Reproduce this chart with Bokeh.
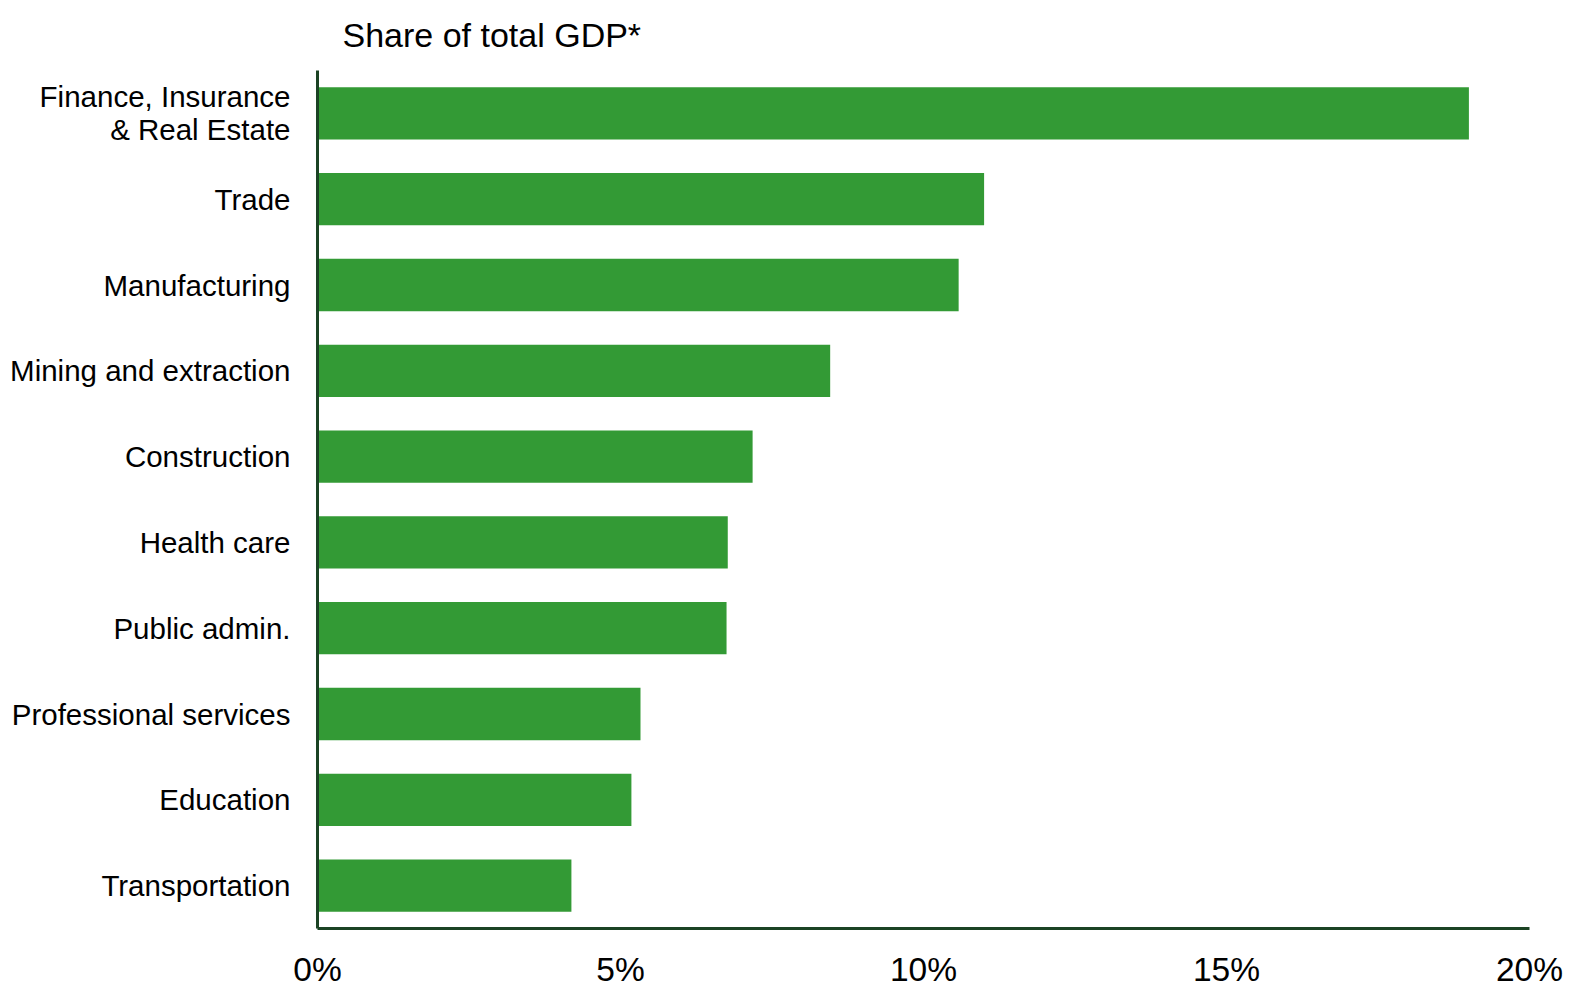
from bokeh.plotting import figure
from bokeh.models import ColumnDataSource, NumeralTickFormatter, FixedTicker, Title
from bokeh.embed import file_html
from bokeh.resources import INLINE

categories = ["Finance, Insurance\n& Real Estate", "Trade", "Manufacturing", "Mining and extraction",
              "Construction", "Health care", "Public admin.", "Professional services",
              "Education", "Transportation"]
shares = [0.190, 0.110, 0.1058, 0.0846, 0.0718, 0.0677, 0.0675, 0.0533, 0.0518, 0.0419]
x_ticks = [0, 0.05, 0.10, 0.15, 0.20]
title_text = "Share of total GDP*"

FONT = "Liberation Sans"
BAR = "#339a35"
AXIS = "#1b4324"

src = ColumnDataSource(dict(cat=categories, val=shares))

p = figure(width=1569, height=990, y_range=list(reversed(categories)), x_range=(0, 0.20),
           output_backend="svg", toolbar_location=None,
           min_border_left=317, min_border_right=40, min_border_top=70, min_border_bottom=60)
p.y_range.range_padding = 0
p.hbar(y="cat", right="val", left=0, height=0.61, source=src, color=BAR, line_color=None)

p.outline_line_color = None
p.grid.visible = False
p.background_fill_color = "white"
p.border_fill_color = "white"

xa = p.xaxis[0]
xa.ticker = FixedTicker(ticks=x_ticks)
xa.formatter = NumeralTickFormatter(format="0%")
xa.major_tick_line_color = None
xa.minor_tick_line_color = None
xa.axis_line_color = AXIS
xa.axis_line_width = 3
xa.major_label_text_font = FONT
xa.major_label_text_font_size = "33.5px"
xa.major_label_text_color = "black"
xa.major_label_standoff = 16

ya = p.yaxis[0]
ya.major_tick_line_color = None
ya.minor_tick_line_color = None
ya.axis_line_color = AXIS
ya.axis_line_width = 3
ya.major_label_text_font = FONT
ya.major_label_text_font_size = "29.5px"
ya.major_label_text_color = "black"
ya.major_label_text_line_height = 1.0
ya.major_label_standoff = 21

t = Title(text=title_text, text_font=FONT, text_font_size="34px", text_font_style="normal",
          text_color="black", align="left", offset=25, standoff=30, vertical_align="top")
p.add_layout(t, "above")

open("out.html", "w").write(file_html(p, INLINE))
